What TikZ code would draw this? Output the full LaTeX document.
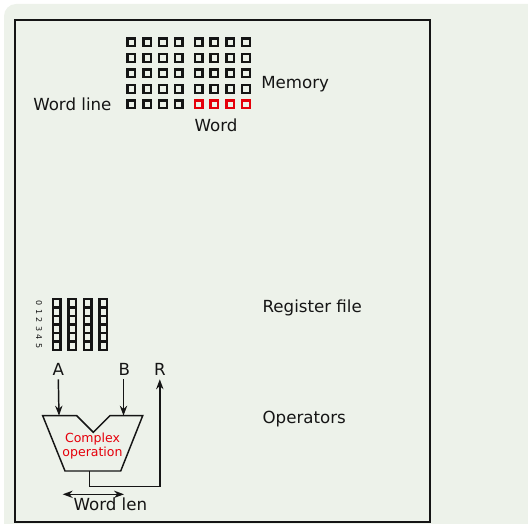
\documentclass[tikz,border=0pt]{standalone}
\usepackage{fontspec}
\setmainfont{DejaVu Sans}
\usetikzlibrary{positioning,arrows.meta}
\definecolor{panel}{HTML}{EDF2EA}
\definecolor{ink}{HTML}{151515}
\definecolor{hot}{HTML}{E5000B}
\tikzset{
  >={Stealth[length=7.5pt,width=5.5pt]},
  memcell/.style={draw=ink, line width=1.8pt, inner sep=0pt, minimum size=5.7pt},
  regcell/.style={memcell, minimum width=5.7pt, minimum height=6.4pt},
  lbl/.style={font=\fontsize{12.5}{15}\selectfont, text=ink, inner sep=0pt, anchor=base west},
  port/.style={lbl, anchor=base, inner sep=3pt},
  idx/.style={font=\fontsize{6}{6}\selectfont, text=ink, inner sep=0pt, rotate=-90},
  wire/.style={draw=ink, line width=1.1pt},
}
\begin{document}
\begin{tikzpicture}[x=0.75pt,y=-0.75pt]
  \useasboundingbox (0,0) rectangle (528,524);
  \fill[panel, rounded corners=9pt] (4,4) rectangle (580,580);
  \draw[ink, line width=1.6pt] (15,20) rectangle (430,522);

  % memory array, 5 word lines of 8 cells
  \foreach \r in {0,...,4}
    \foreach \c in {0,...,7} {
      \pgfmathsetmacro{\cx}{131.3+15.8*\c+(\c>3)*4}
      \pgfmathsetmacro{\cy}{42.5+15.5*\r}
      \ifnum\r=4 \ifnum\c>3
        \node[memcell, draw=hot] (m-\r-\c) at (\cx,\cy) {};
      \else
        \node[memcell] (m-\r-\c) at (\cx,\cy) {};
      \fi\else
        \node[memcell] (m-\r-\c) at (\cx,\cy) {};
      \fi
    }
  \node[lbl] (memory) at (261,89) {Memory};
  \node[lbl] (wordline) at (33,110.7) {Word line};
  \node[lbl] (word) at (194.3,131.5) {Word};

  % register file
  \foreach \r in {0,...,5} {
    \node[idx] (ri-\r) at (39,303.3+8.5*\r) {\r};
    \foreach \c in {0,...,3}
      \node[regcell] (rf-\r-\c) at (56.7+15.5*\c,303.3+8.5*\r) {};
  }
  \node[lbl] (regfile) at (262.3,312.7) {Register file};

  % operator
  \draw[wire] (42.7,415.7) -- (76.7,415.7) -- (93.3,432.3) -- (110,415.7)
    -- (142.7,415.7) -- (120.7,471) -- (65,471) -- cycle;
  \coordinate (inA) at (59,415.7);
  \coordinate (inB) at (123.5,415.7);
  \coordinate (outR) at (89.3,471);
  \node[font=\fontsize{9.4}{10.8}\selectfont, text=hot, align=center, inner sep=0pt]
    (op) at (92.5,446.3) {Complex\\operation};
  \node[port] (opA) at (58.3,375) {A};
  \node[port] (opB) at (124.3,375) {B};
  \node[port] (opR) at (159.8,375) {R};
  \draw[wire,->] (opA.south) -- (inA);
  \draw[wire,->] (opB.south -| inB) -- (inB);
  \draw[wire,->] (outR) -- (89.3,486.7) -| (opR.south);
  \node[lbl] (opers) at (262.3,423.3) {Operators};

  % word length
  \coordinate (wl-a) at (62.7,494.3);
  \coordinate (wl-b) at (124,494.3);
  \draw[wire,<->] (wl-a) -- (wl-b);
  \node[lbl] (wlen) at (73.3,510) {Word len};
\end{tikzpicture}
\end{document}
